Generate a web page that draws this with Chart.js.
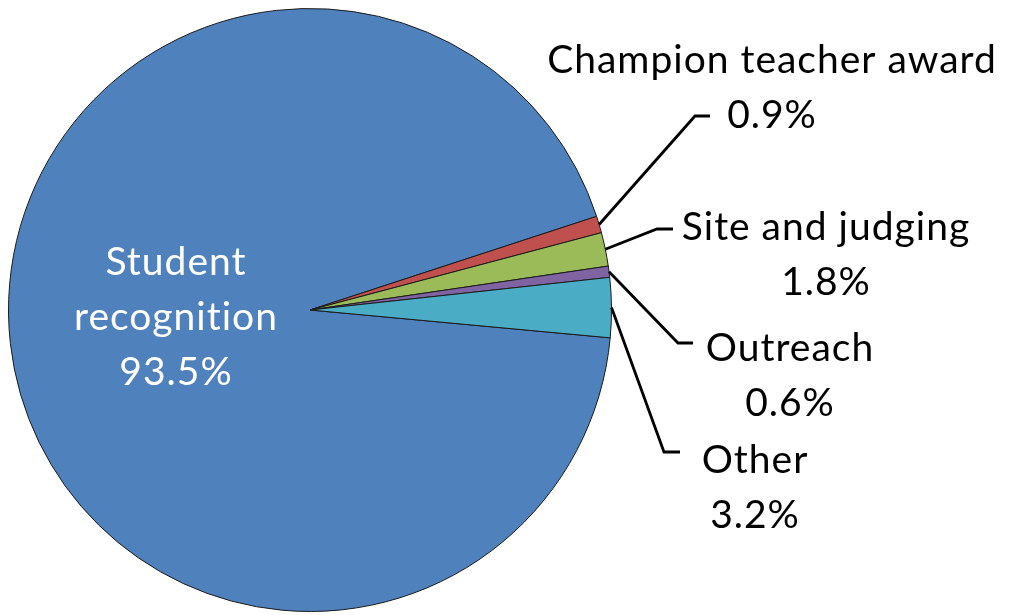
<!DOCTYPE html>
<html>
<head>
<meta charset="utf-8">
<script src="https://cdn.jsdelivr.net/npm/chart.js@4.4.1/dist/chart.umd.min.js"></script>
<style>
  html, body { margin: 0; padding: 0; background: #fff; }
  #wrap { width: 1024px; height: 615px; position: relative; }
</style>
</head>
<body>
<div id="wrap"><canvas id="pie"></canvas></div>
<script>
// data
var categories = ['Student recognition', 'Champion teacher award', 'Site and judging', 'Outreach', 'Other'];
var shares = [93.5, 0.9, 1.8, 0.6, 3.2];
var colors = ['#4F81BD', '#C0504D', '#9BBB59', '#8064A2', '#4BACC6'];

// where each label sits (centre of first line), leader elbow and end
var labelSpots = [
  { x: 176, y: 262, lines: ['Student', 'recognition'], color: '#fff' },
  { x: 772, y: 60, lines: ['Champion teacher award'], elbow: [695, 116], end: [710, 116] },
  { x: 826, y: 227, lines: ['Site and judging'], elbow: [657, 229], end: [673, 229] },
  { x: 790, y: 348, lines: ['Outreach'], elbow: [678, 343], end: [693, 343] },
  { x: 755, y: 460, lines: ['Other'], elbow: [664, 452], end: [680, 452] }
];
var lineGap = 55;

var pieLabels = {
  id: 'pieLabels',
  afterDatasetsDraw: function(chart) {
    var ctx = chart.ctx;
    var arcs = chart.getDatasetMeta(0).data;
    ctx.save();
    ctx.font = '39px Lato';
    ctx.letterSpacing = '1px';
    ctx.textAlign = 'center';
    ctx.textBaseline = 'middle';
    arcs.forEach(function(arc, i) {
      var spot = labelSpots[i];
      if (spot.elbow) {
        var p = arc.getProps(['x', 'y', 'startAngle', 'endAngle', 'outerRadius'], true);
        var mid = (p.startAngle + p.endAngle) / 2;
        ctx.beginPath();
        ctx.moveTo(p.x + Math.cos(mid) * p.outerRadius, p.y + Math.sin(mid) * p.outerRadius);
        ctx.lineTo(spot.elbow[0], spot.elbow[1]);
        ctx.lineTo(spot.end[0], spot.end[1]);
        ctx.strokeStyle = '#000';
        ctx.lineWidth = 2.8;
        ctx.stroke();
      }
      var txt = spot.lines.concat([shares[i].toFixed(1) + '%']);
      ctx.fillStyle = spot.color || '#000';
      txt.forEach(function(t, k) {
        ctx.fillText(t, spot.x, spot.y + k * lineGap);
      });
    });
    ctx.restore();
  }
};

new Chart(document.getElementById('pie'), {
  type: 'pie',
  data: {
    labels: categories,
    datasets: [{
      data: shares,
      backgroundColor: colors,
      borderColor: '#1a1a1a',
      borderWidth: 1
    }]
  },
  options: {
    responsive: true,
    maintainAspectRatio: false,
    animation: false,
    rotation: 95.3,
    layout: { padding: { left: 8, right: 412, top: 8, bottom: 3 } },
    plugins: {
      legend: { display: false },
      tooltip: { enabled: false }
    }
  },
  plugins: [pieLabels]
});
</script>
</body>
</html>
